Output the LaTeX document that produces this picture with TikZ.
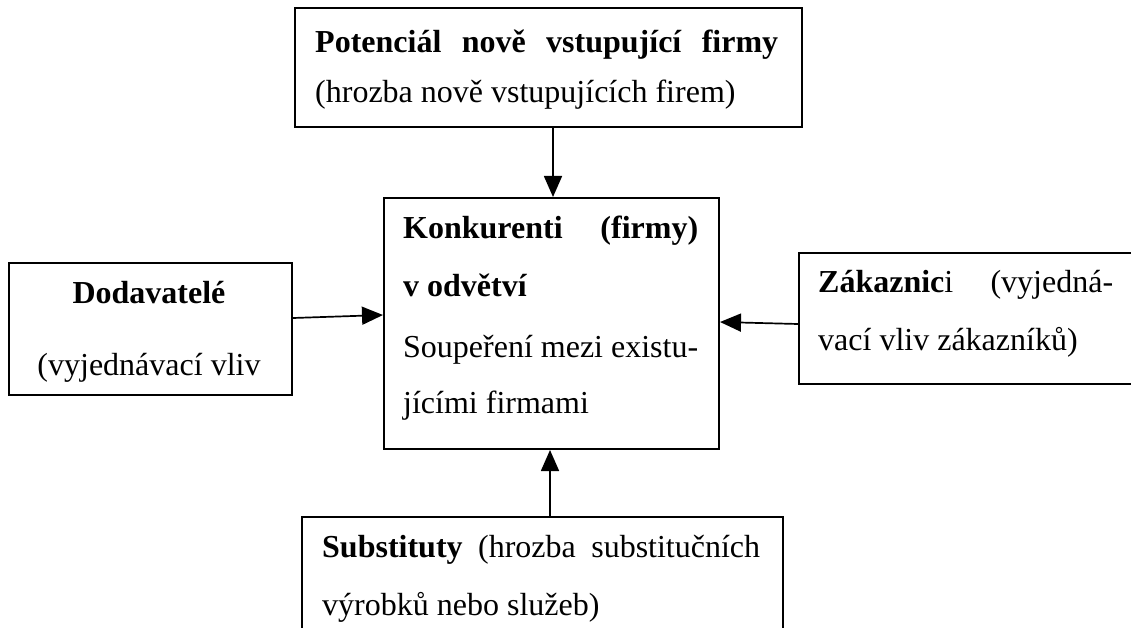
\documentclass[tikz,border=0pt]{standalone}
\usepackage{fontspec}
\setmainfont{Liberation Serif}
\usetikzlibrary{arrows.meta}
\tikzset{
  box/.style={draw, line width=2pt, rectangle, anchor=north west, inner sep=0pt},
  txt/.style={anchor=base west, inner sep=0pt, font=\fontsize{32}{38}\selectfont},
  ctxt/.style={anchor=base, inner sep=0pt, font=\fontsize{32}{38}\selectfont},
  arr/.style={line width=1.7pt, -{Triangle[width=18pt,length=21pt]}}
}
\begin{document}
\begin{tikzpicture}[x=1pt,y=-1pt]
\useasboundingbox (0,0) rectangle (1131,628);
\clip (0,0) rectangle (1131,628);
% boxes
\node[box, minimum width=507pt, minimum height=119pt] (top) at (294,7) {};
\node[box, minimum width=335pt, minimum height=251pt] (center) at (383,197) {};
\node[box, minimum width=283pt, minimum height=132pt] (dod) at (8,262) {};
\node[box, minimum width=400pt, minimum height=131pt] (zak) at (798,252) {};
\node[box, minimum width=481pt, minimum height=150pt] (sub) at (301,516) {};
% texts
\node[txt] (t1) at (315,53) {\makebox[463pt][s]{\bfseries Potenciál nově vstupující firmy}};
\node[txt] (t2) at (315,103) {(hrozba nově vstupujících firem)};
\node[txt] (c1) at (403,238) {\makebox[295pt][s]{\bfseries Konkurenti (firmy)}};
\node[txt] (c2) at (403,296) {\bfseries v odvětví};
\node[txt] (c3) at (403,357) {\makebox[295pt][s]{Soupeření mezi existu-}};
\node[txt] (c4) at (403,413) {jícími firmami};
\node[ctxt] (d1) at (149,303) {\bfseries Dodavatelé};
\node[ctxt] (d2) at (149,375) {(vyjednávací vliv};
\node[txt] (z1) at (818,292) {\makebox[295pt][s]{\textbf{Zákaznic}i (vyjedná-}};
\node[txt] (z2) at (818,350) {vací vliv zákazníků)};
\node[txt] (s1) at (322,557) {\makebox[438pt][s]{\textbf{Substituty} (hrozba substitučních}};
\node[txt] (s2) at (322,615) {výrobků nebo služeb)};
% connectors
\draw[arr] ([xshift=1.5pt]top.south -| center.north) -- ([xshift=1.5pt]center.north);
\draw[arr] ([yshift=11pt]dod.east) -- ([yshift=8.5pt]center.west);
\draw[arr] ([yshift=-5.5pt]zak.west) -- ([yshift=1.5pt]center.east);
\draw[arr] ([xshift=-1.5pt]center.south |- sub.north) -- ([xshift=-1.5pt]center.south);
\end{tikzpicture}
\end{document}
